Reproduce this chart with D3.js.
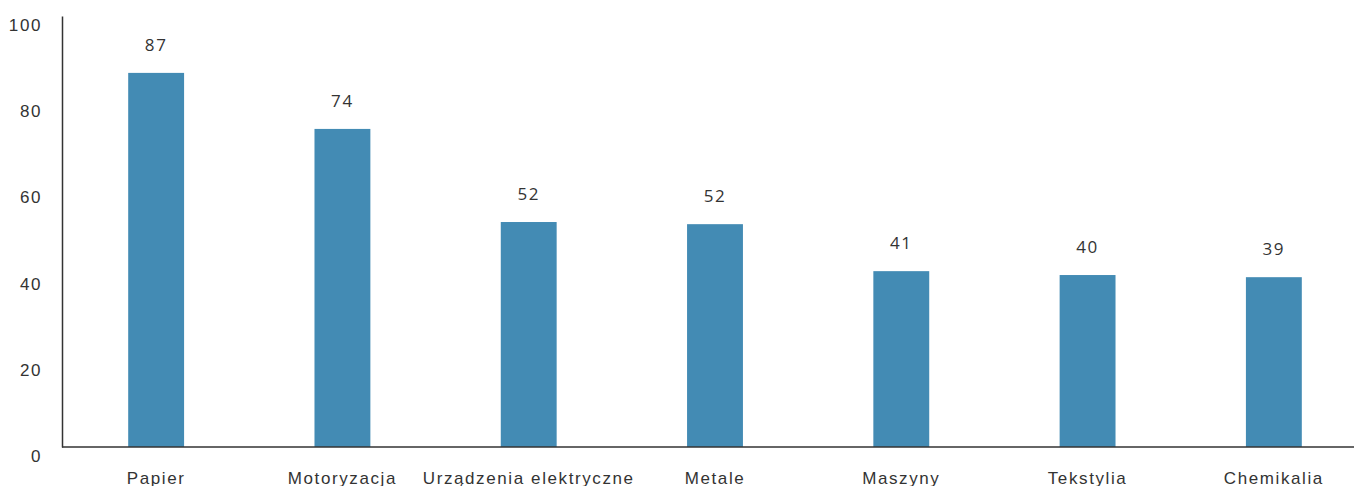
<!DOCTYPE html>
<html>
<head>
<meta charset="utf-8">
<script src="https://cdn.jsdelivr.net/npm/d3@7"></script>
<style>
  body { margin: 0; background: #fff; }
  svg { display: block; font-family: "Open Sans", sans-serif; letter-spacing: 1.6px; }
</style>
</head>
<body>
<div id="chart"></div>
<script>
// dane
const categories = ['Papier', 'Motoryzacja', 'Urządzenia elektryczne', 'Metale', 'Maszyny', 'Tekstylia', 'Chemikalia'];
const values = [86.8, 73.8, 52.2, 51.7, 40.8, 39.9, 39.4];
const yTicks = [0, 20, 40, 60, 80, 100];

const W = 1354, H = 486;
const margin = { top: 16, right: -13, bottom: 39, left: 63 };
const fontSize = '17px';

const svg = d3.select('#chart').append('svg')
  .attr('width', W).attr('height', H);

const x = d3.scaleBand()
  .domain(categories)
  .range([margin.left, W - margin.right])
  .paddingInner(0.7)
  .paddingOuter(0.35);

const y = d3.scaleLinear()
  .domain([0, 100])
  .range([H - margin.bottom, margin.top]);

// słupki
svg.append('g').selectAll('rect')
  .data(values).enter()
  .append('rect')
  .attr('x', (d, i) => x(categories[i]))
  .attr('width', x.bandwidth())
  .attr('y', d => y(d))
  .attr('height', d => y(0) - y(d))
  .attr('fill', '#438bb4');

// etykiety wartości
svg.append('g').selectAll('text')
  .data(values).enter()
  .append('text')
  .attr('x', (d, i) => x(categories[i]) + x.bandwidth() / 2)
  .attr('y', d => y(d) - 22)
  .attr('text-anchor', 'middle')
  .style('font-size', fontSize)
  .style('fill', '#333')
  .text(d => Math.round(d));

// oś Y
const yAxis = svg.append('g')
  .attr('transform', `translate(${margin.left - 1},0)`)
  .call(d3.axisLeft(y).tickValues(yTicks).tickSize(0).tickPadding(20));
yAxis.select('.domain').attr('stroke', '#333').attr('stroke-width', 1.5);
yAxis.selectAll('text')
  .attr('dy', '0.85em')
  .style('font-size', fontSize)
  .style('fill', '#333');

// oś X (etykiety przycięte dolną krawędzią, jak w oryginale)
const xAxis = svg.append('g')
  .attr('transform', `translate(0,${H - margin.bottom})`)
  .call(d3.axisBottom(x).tickSize(0).tickPadding(25));
xAxis.select('.domain')
  .attr('d', `M${margin.left - 1},0H${W}`)
  .attr('stroke', '#333').attr('stroke-width', 1.5);
xAxis.selectAll('text')
  .style('font-size', fontSize)
  .style('fill', '#333');
</script>
</body>
</html>
